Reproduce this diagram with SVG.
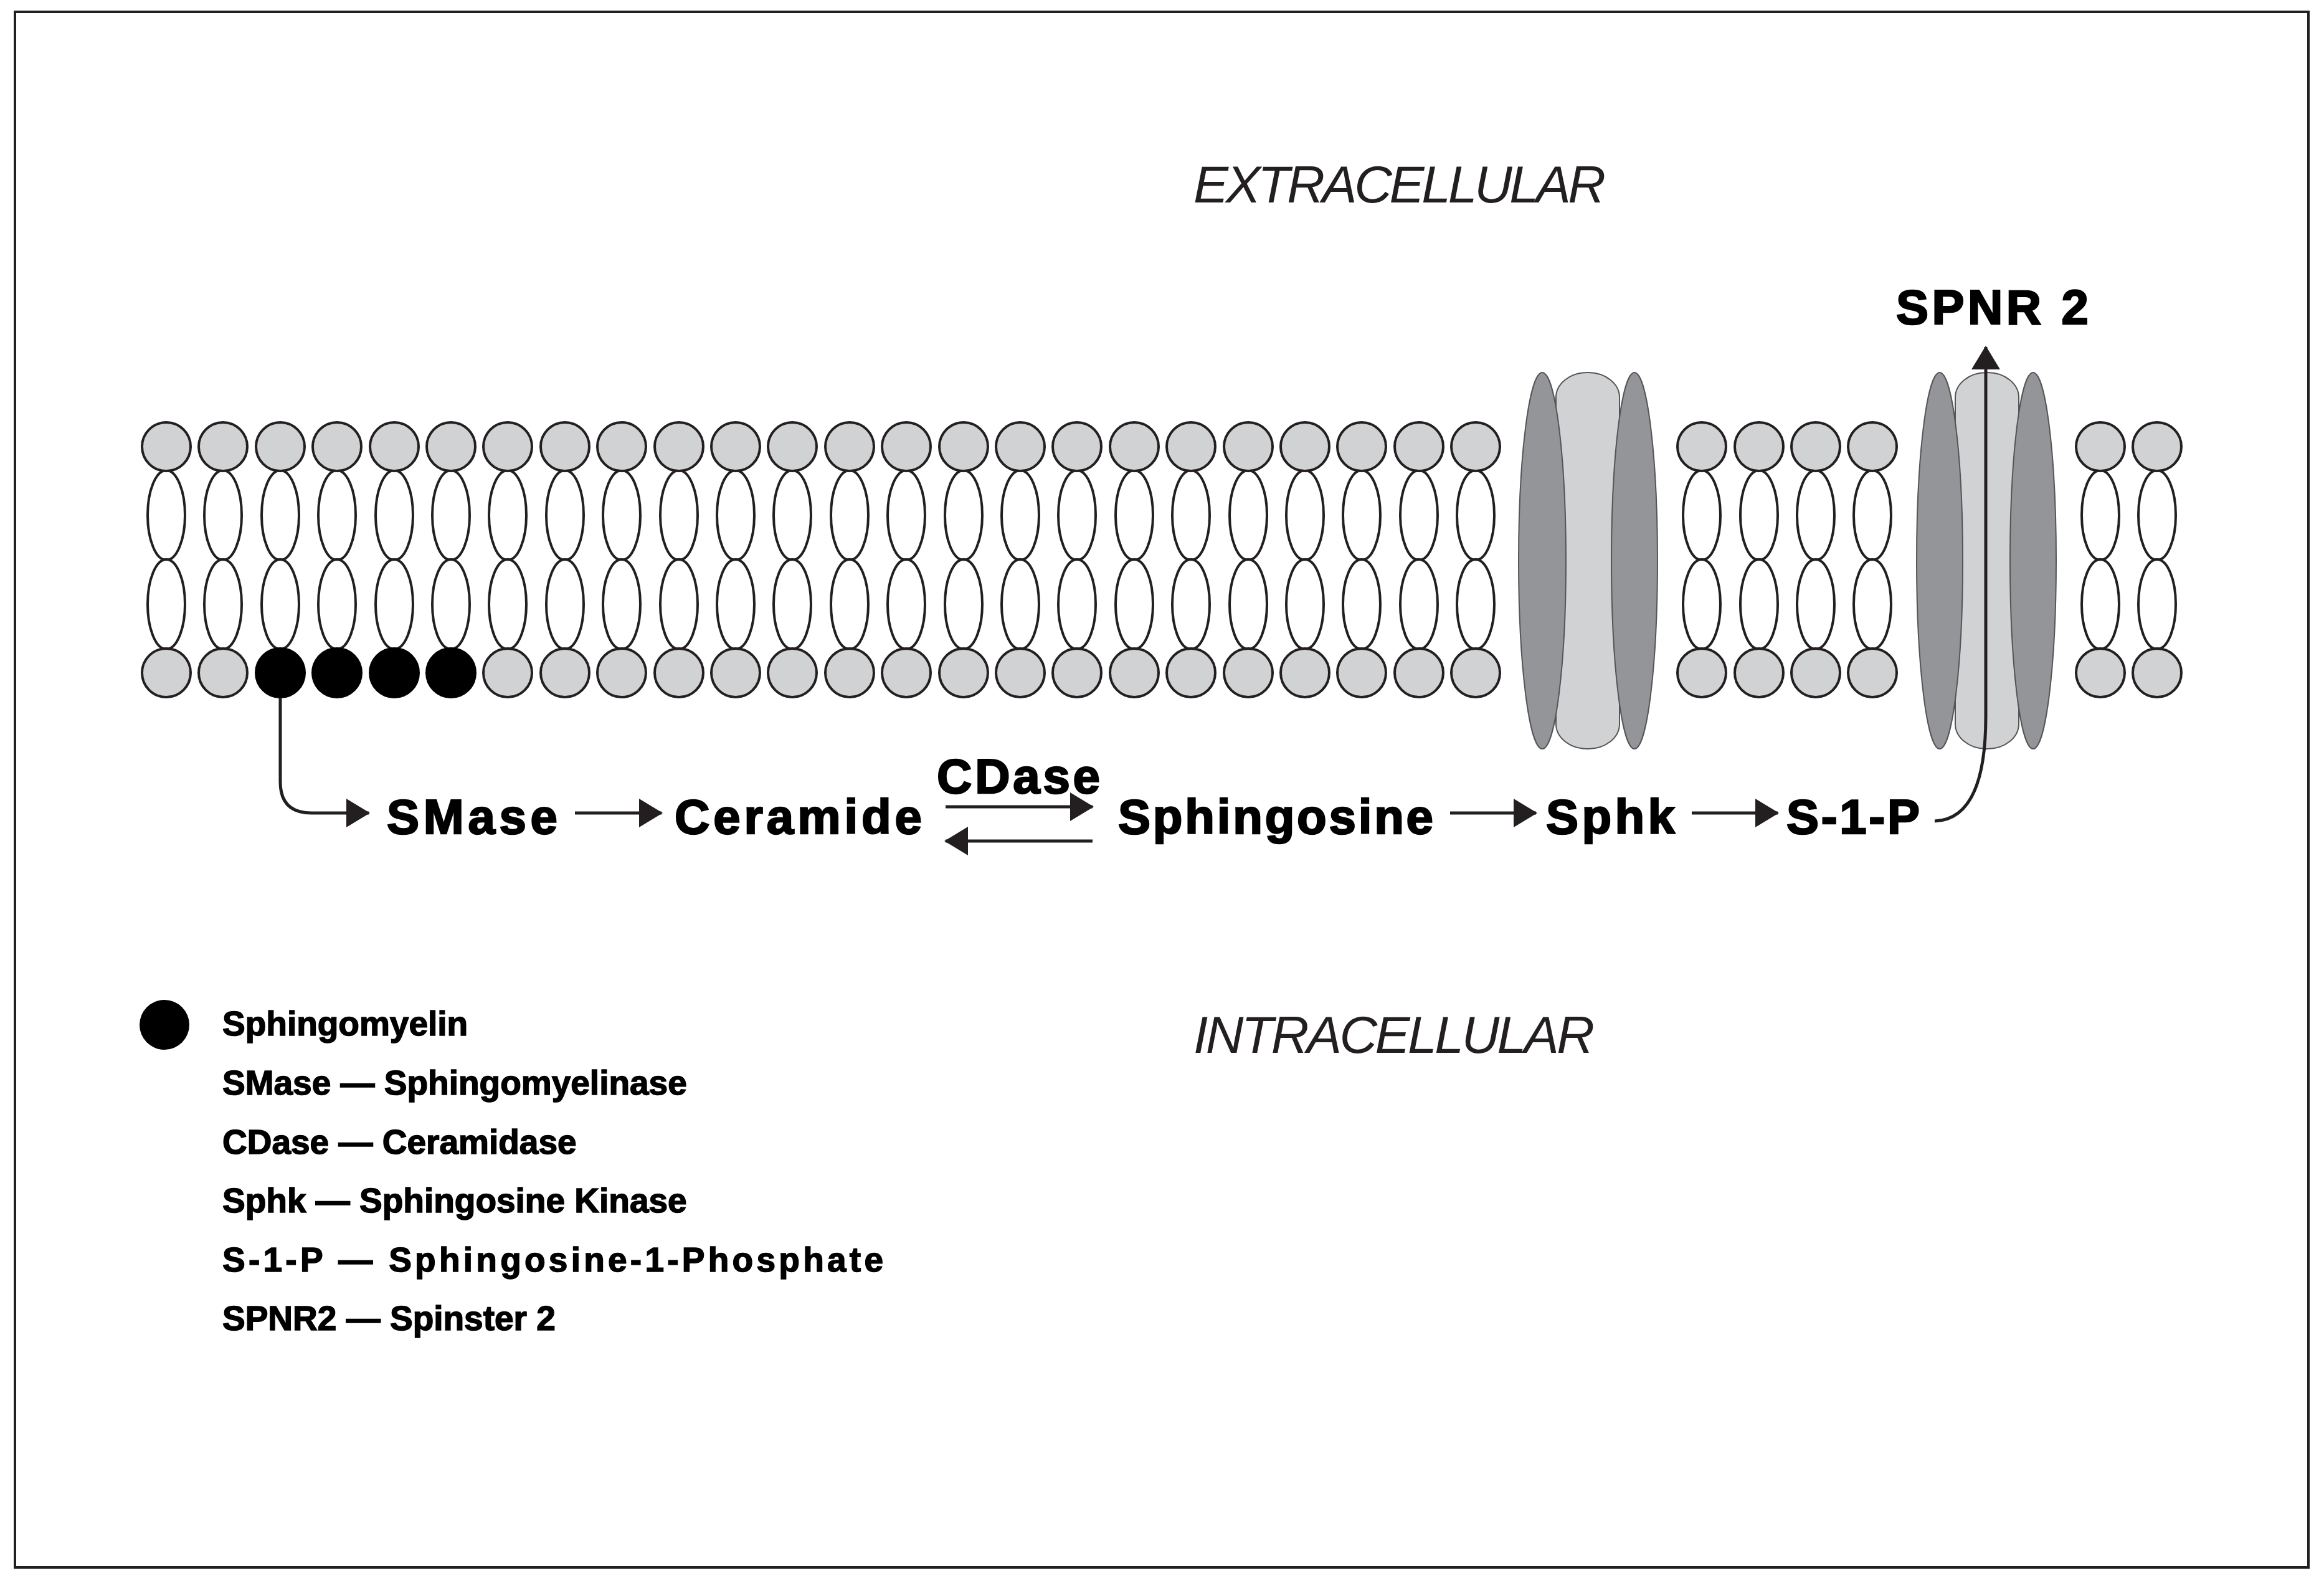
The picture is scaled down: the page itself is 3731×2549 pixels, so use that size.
<svg xmlns="http://www.w3.org/2000/svg" xmlns:xlink="http://www.w3.org/1999/xlink" width="3731" height="2549" viewBox="0 0 3731 2549">
<style>
.hd{fill:#d1d2d4;stroke:#231f20;stroke-width:4}
.bk{fill:#000;stroke:#000;stroke-width:4}
.tl{fill:#fff;stroke:#231f20;stroke-width:4}
.dk{fill:#939598;stroke:#555;stroke-width:2}
.lt{fill:#d1d2d4;stroke:#555;stroke-width:2}
.pw{font-family:"Liberation Sans",Arial,sans-serif;font-weight:bold;font-size:78px;fill:#000;stroke:#000;stroke-width:2.5}
.lg{font-family:"Liberation Sans",Arial,sans-serif;font-weight:bold;font-size:55px;fill:#000;stroke:#000;stroke-width:1.5}
.rg{font-family:"Liberation Sans",Arial,sans-serif;font-style:italic;font-size:84px;fill:#231f20}
.ar{fill:none;stroke:#231f20;stroke-width:5}
</style>
<defs>
<marker id="ah" markerUnits="userSpaceOnUse" markerWidth="40" markerHeight="46" refX="36" refY="23" orient="auto"><path d="M0 0 L38 23 L0 46 Z" fill="#231f20"/></marker>
<g id="lip"><ellipse class="tl" cx="0" cy="827" rx="30" ry="72"/><ellipse class="tl" cx="0" cy="970" rx="30" ry="72"/><circle class="hd" cx="0" cy="717" r="39"/></g>
<g id="lipb"><use xlink:href="#lip"/><circle class="hd" cx="0" cy="1080" r="39"/></g>
</defs>
<rect x="24" y="19" width="3682" height="2497" fill="#fff" stroke="#231f20" stroke-width="4"/>
<g id="extracellular"><text class="rg" x="1916" y="325" textLength="662">EXTRACELLULAR</text></g>
<g id="intracellular"><text class="rg" x="1916" y="1690" textLength="644">INTRACELLULAR</text></g>
<g id="membrane">
<use xlink:href="#lipb" x="267"/><use xlink:href="#lipb" x="358"/>
<use xlink:href="#lip" x="450"/><circle class="bk" cx="450" cy="1080" r="39"/>
<use xlink:href="#lip" x="541"/><circle class="bk" cx="541" cy="1080" r="39"/>
<use xlink:href="#lip" x="633"/><circle class="bk" cx="633" cy="1080" r="39"/>
<use xlink:href="#lip" x="724"/><circle class="bk" cx="724" cy="1080" r="39"/>
<use xlink:href="#lipb" x="815"/><use xlink:href="#lipb" x="907"/><use xlink:href="#lipb" x="998"/><use xlink:href="#lipb" x="1090"/><use xlink:href="#lipb" x="1181"/><use xlink:href="#lipb" x="1272"/><use xlink:href="#lipb" x="1364"/><use xlink:href="#lipb" x="1455"/><use xlink:href="#lipb" x="1547"/><use xlink:href="#lipb" x="1638"/><use xlink:href="#lipb" x="1729"/><use xlink:href="#lipb" x="1821"/><use xlink:href="#lipb" x="1912"/><use xlink:href="#lipb" x="2004"/><use xlink:href="#lipb" x="2095"/><use xlink:href="#lipb" x="2186"/><use xlink:href="#lipb" x="2278"/><use xlink:href="#lipb" x="2369"/>
<use xlink:href="#lipb" x="2732"/><use xlink:href="#lipb" x="2824"/><use xlink:href="#lipb" x="2915"/><use xlink:href="#lipb" x="3006"/>
<use xlink:href="#lipb" x="3372"/><use xlink:href="#lipb" x="3463"/>
</g>
<g id="sphk-channel">
<rect class="lt" x="2498" y="598" width="102" height="604" rx="50" ry="40"/>
<ellipse class="dk" cx="2476" cy="900" rx="38" ry="302"/>
<ellipse class="dk" cx="2624" cy="900" rx="37" ry="302"/>
</g>
<g id="spnr2-channel">
<rect class="lt" x="3139" y="598" width="102" height="604" rx="50" ry="40"/>
<ellipse class="dk" cx="3114" cy="900" rx="37" ry="302"/>
<ellipse class="dk" cx="3264" cy="900" rx="37" ry="302"/>
</g>
<g id="labels">
<text class="pw" x="621" y="1338" textLength="274">SMase</text>
<text class="pw" x="1083" y="1338" textLength="397">Ceramide</text>
<text class="pw" x="1504" y="1273" textLength="262">CDase</text>
<text class="pw" x="1795" y="1338" textLength="506">Sphingosine</text>
<text class="pw" x="2482" y="1338" textLength="207">Sphk</text>
<text class="pw" x="2868" y="1338" textLength="214">S-1-P</text>
<text class="pw" x="3044" y="520" textLength="309">SPNR 2</text>
</g>
<g id="connectors">
<path class="ar" marker-end="url(#ah)" d="M450 1120 V1255 Q450 1305 500 1305 H592"/>
<path class="ar" marker-end="url(#ah)" d="M923 1305 H1062"/>
<path class="ar" marker-end="url(#ah)" d="M1518 1295 H1754"/>
<path class="ar" marker-end="url(#ah)" d="M1754 1350 H1518"/>
<path class="ar" marker-end="url(#ah)" d="M2328 1305 H2466"/>
<path class="ar" marker-end="url(#ah)" d="M2716 1305 H2854"/>
<path class="ar" marker-end="url(#ah)" d="M3106 1318 Q3188 1315 3188 1150 V557"/>
</g>
<g id="legend">
<circle cx="264" cy="1645" r="40" fill="#000"/>
<text class="lg" x="357" y="1662">Sphingomyelin</text>
<text class="lg" x="357" y="1757">SMase — Sphingomyelinase</text>
<text class="lg" x="357" y="1852">CDase — Ceramidase</text>
<text class="lg" x="357" y="1946">Sphk — Sphingosine Kinase</text>
<text class="lg" x="357" y="2041" textLength="1061">S-1-P — Sphingosine-1-Phosphate</text>
<text class="lg" x="357" y="2135">SPNR2 — Spinster 2</text>
</g>
</svg>
